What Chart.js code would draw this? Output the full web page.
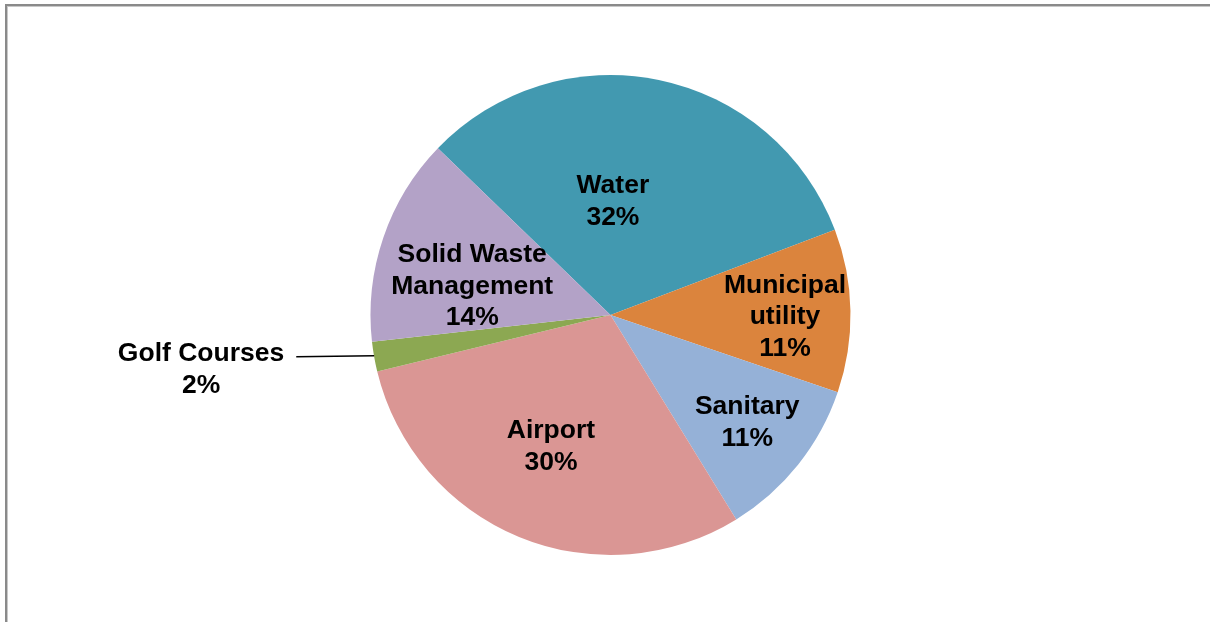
<!DOCTYPE html>
<html>
<head>
<meta charset="utf-8">
<script src="https://cdn.jsdelivr.net/npm/chart.js@4"></script>
<style>
  html, body { margin: 0; padding: 0; background: #ffffff; overflow: hidden; }
  #wrap { position: relative; width: 1210px; height: 622px; }
  #frame {
    position: absolute; left: 5px; top: 4px; width: 1300px; height: 700px;
    border-left: 2px solid #8a8a8a; border-top: 2px solid #8a8a8a;
    box-shadow: inset 1px 1px 0 #c8c8c8;
  }
  canvas { position: absolute; left: 0; top: 0; }
</style>
</head>
<body>
<div id="wrap">
  <div id="frame"></div>
  <canvas id="chart" width="1210" height="622"></canvas>
</div>
<script>
// Share of projects by sector (percent)
const categories = ['Water', 'Municipal utility', 'Sanitary', 'Airport', 'Golf Courses', 'Solid Waste Management'];
const shares = [32, 11, 11, 30, 2, 14];
const labelLines = [
  ['Water'],
  ['Municipal', 'utility'],
  ['Sanitary'],
  ['Airport'],
  ['Golf Courses'],
  ['Solid Waste', 'Management']
];
const sliceColors = ['#4299B0', '#DB843D', '#95B1D7', '#DA9694', '#8CA852', '#B3A2C7'];

// Label placement: fraction of radius and angular nudge (degrees) from each slice's mid angle
const labelPlacement = [
  { r: 0.48, nudge: -10.4 },
  { r: 0.727, nudge: 1.0 },
  { r: 0.72, nudge: -0.9 },
  { r: 0.594, nudge: 2.3 },
  { r: 1.72, nudge: 2.7, outside: true },
  { r: 0.59, nudge: -6.4 }
];

const sliceLabels = {
  id: 'sliceLabels',
  afterDatasetsDraw(chart) {
    const ctx = chart.ctx;
    const meta = chart.getDatasetMeta(0);
    const lineH = 31.5;
    const baselineShift = 2;
    ctx.save();
    ctx.font = 'bold 26.5px "Liberation Sans", Arial, sans-serif';
    ctx.fillStyle = '#000000';
    ctx.textAlign = 'center';
    ctx.textBaseline = 'middle';
    meta.data.forEach((arc, i) => {
      const p = arc.getProps(['x', 'y', 'startAngle', 'endAngle', 'outerRadius'], true);
      const mid = (p.startAngle + p.endAngle) / 2;
      const place = labelPlacement[i];
      const a = mid + place.nudge * Math.PI / 180;
      const cx = p.x + Math.cos(a) * p.outerRadius * place.r;
      const cy = p.y + Math.sin(a) * p.outerRadius * place.r;
      const lines = labelLines[i].concat([shares[i] + '%']);
      const top = cy - (lines.length - 1) * lineH / 2;
      lines.forEach((t, k) => ctx.fillText(t, cx, top + k * lineH + baselineShift));
      if (place.outside) {
        const ex = p.x + Math.cos(mid) * p.outerRadius;
        const ey = p.y + Math.sin(mid) * p.outerRadius;
        const w = ctx.measureText(lines[0]).width;
        ctx.beginPath();
        ctx.strokeStyle = '#000000';
        ctx.lineWidth = 1.5;
        ctx.moveTo(cx + w / 2 + 12, top + 5);
        ctx.lineTo(ex, ey - 1);
        ctx.stroke();
      }
    });
    ctx.restore();
  }
};

new Chart(document.getElementById('chart'), {
  type: 'pie',
  data: {
    labels: categories,
    datasets: [{
      data: shares,
      backgroundColor: sliceColors,
      borderWidth: 0,
      hoverOffset: 0
    }]
  },
  options: {
    responsive: false,
    animation: false,
    rotation: -46,
    layout: { padding: { left: 11, right: 0, top: 75, bottom: 67 } },
    plugins: {
      legend: { display: false },
      tooltip: { enabled: false }
    }
  },
  plugins: [sliceLabels]
});
</script>
</body>
</html>
